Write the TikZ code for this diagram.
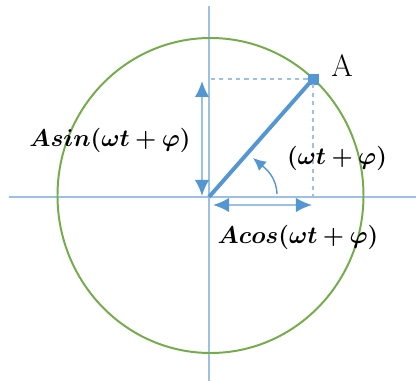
\documentclass[tikz,border=0pt]{standalone}
\usepackage{bm}
\usetikzlibrary{arrows.meta, positioning, shapes.geometric}
\definecolor{axisblue}{RGB}{155,193,228}
\definecolor{vecblue}{RGB}{84,150,212}
\definecolor{ringgreen}{RGB}{116,172,74}

\begin{document}
\begin{tikzpicture}[x=0.025cm, y=0.025cm]
\tikzset{axis/.style={draw=axisblue, line width=1pt}, proj/.style={draw=axisblue, dashed, line width=0.9pt}, dim/.style={{Latex[length=4mm,width=3.6mm,color=vecblue]}-{Latex[length=4mm,width=3.6mm,color=vecblue]}, draw=axisblue, line width=1.4pt}, lbl/.style={font=\fontsize{16}{18}\selectfont}}
\useasboundingbox (-209,-184) rectangle (207,197);
\coordinate (O) at (0,0);
\draw[axis] (-200,0) -- (207,0); \draw[axis] (0,-184) -- (0,191);
\draw[ringgreen, line width=1.4pt] (1.5,1.5) ellipse [x radius=153, y radius=157.5];
\node[draw=vecblue, fill=vecblue, rectangle, minimum size=0.25cm, inner sep=0pt] (A) at (104,118) {};
\node[font=\fontsize{22}{24}\selectfont] (Alab) at (133,131) {A};
\coordinate (Ay) at (0,118); \coordinate (Ax) at (104,0);
\draw[proj] (A) -- (Ay); \draw[proj] (A) -- (Ax);
\draw[vecblue, line width=2.8pt] (O) -- (A.center);
\coordinate (S1) at (-7,116); \coordinate (S0) at (-7,1);
\coordinate (C0) at (4,-8); \coordinate (C1) at (103,-8);
\draw[dim] (S0) -- (S1); \draw[dim] (C0) -- (C1);
\draw[-{Latex[length=3.2mm,width=3mm]}, draw=vecblue, line width=1pt] (68,3) to[out=92, in=-40] (44,39);
\node[lbl] (sinlab) at (-99,57) {$\bm{Asin(\omega t+\varphi)}$};
\node[lbl] (anglab) at (128,39) {$\bm{(\omega t+\varphi)}$};
\node[lbl] (coslab) at (89,-40) {$\bm{Acos(\omega t+\varphi)}$};
\end{tikzpicture}
\end{document}
